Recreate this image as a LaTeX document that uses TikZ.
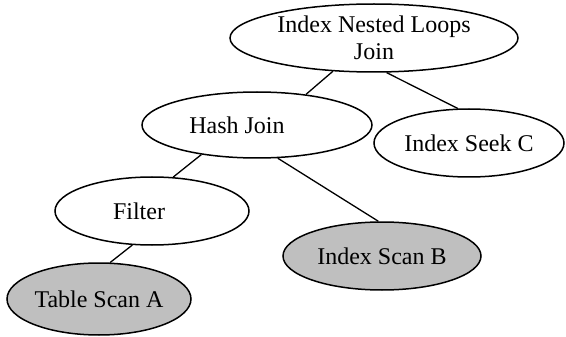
\documentclass[tikz,border=0pt]{standalone}
\usepackage{fontspec}
\setmainfont{Liberation Serif}
\usetikzlibrary{shapes.geometric}
\tikzset{op/.style={draw,ellipse,line width=1.5pt,inner sep=0pt,align=center,
  font=\fontsize{24}{27}\selectfont},
  leaf/.style={op,fill=black!25},
  edge/.style={line width=1.3pt}}

\begin{document}
\begin{tikzpicture}[x=1pt,y=-1pt]
\useasboundingbox (0,0) rectangle (566,337);
\node[op,minimum width=288,minimum height=68] (nlj) at (374,38) {Index Nested Loops\\Join};
\node[op,minimum width=230,minimum height=66,
  label={[xshift=-20pt,font=\fontsize{24}{27}\selectfont]center:Hash Join}] (hj) at (257,125) {};
\node[op,minimum width=190,minimum height=68] (seek) at (469,143) {Index Seek C};
\node[op,minimum width=194,minimum height=68,
  label={[xshift=-13pt,font=\fontsize{24}{27}\selectfont]center:Filter}] (flt) at (152,211) {};
\node[leaf,minimum width=198,minimum height=68] (scanb) at (382,256) {Index Scan B};
\node[leaf,minimum width=184,minimum height=72] (scana) at (99,299) {Table Scan A};
\draw[edge] (nlj.219)--(hj.32);
\draw[edge] (nlj.290)--(seek.108);
\draw[edge] (hj.208)--(flt.58);
\draw[edge] (hj.302)--(scanb.96);
\draw[edge] (flt.240)--(scana.73);
\end{tikzpicture}
\end{document}
